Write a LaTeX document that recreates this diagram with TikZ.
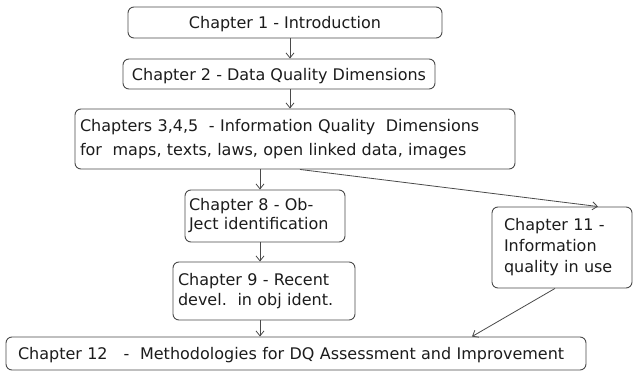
\documentclass[tikz,border=0pt]{standalone}
\usepackage{fontspec}
\setmainfont{DejaVu Sans}
\usetikzlibrary{arrows.meta}
\definecolor{edge}{HTML}{4A4A4A}
\definecolor{ink}{HTML}{1C1C1C}
\tikzset{
  chapbox/.style={draw=edge, line width=0.9pt, rounded corners=6pt,
    text=ink, font=\fontsize{16}{21}\selectfont, inner ysep=0pt},
  oneline/.style={text depth=0pt},
  flow/.style={draw=edge, line width=0.8pt,
    -{Straight Barb[length=5pt,width=8pt,line width=0.8pt]}},
}
\begin{document}
\begin{tikzpicture}[x=1pt,y=-1pt]
\useasboundingbox (0,0) rectangle (634,371);
\fill[white] (0,0) rectangle (634,371);

% chapter boxes (centre, size)
\node[chapbox, oneline, minimum width=314pt, minimum height=31pt, align=center]
  (c1) at (285,22.5) {Chapter 1 - Introduction};
\node[chapbox, oneline, minimum width=312pt, minimum height=30pt, align=center]
  (c2) at (279,74) {Chapter 2 - Data Quality Dimensions};
\node[chapbox, minimum width=440pt, minimum height=60pt, inner xsep=5pt,
  text width=430pt, align=left, font=\fontsize{16}{24}\selectfont]
  (c3) at (295,139) {Chapters 3,4,5\ \ - Information Quality\ \ Dimensions\\
  for\ \ maps, texts, laws, open linked data, images};
\node[chapbox, minimum width=160pt, minimum height=52pt, inner xsep=4pt,
  text width=152pt, align=left, font=\fontsize{16}{19}\selectfont]
  (c8) at (265,216) {Chapter 8 - Ob-\\Ject identification};
\node[chapbox, minimum width=182pt, minimum height=58pt, inner xsep=5pt,
  text width=172pt, align=left, font=\fontsize{16}{20}\selectfont]
  (c9) at (264,291) {Chapter 9 - Recent\\devel.\ \ in obj ident.};
\node[chapbox, minimum width=140pt, minimum height=81pt, inner xsep=12pt,
  text width=116pt, align=left]
  (c11) at (562,247.5) {Chapter 11 -\\Information\\quality in use};
\node[chapbox, oneline, minimum width=580pt, minimum height=33pt, inner xsep=12pt,
  text width=556pt, align=left]
  (c12) at (296,353.5) {Chapter 12\ \ \ -\ \ Methodologies for DQ Assessment and Improvement};

% connector columns
\coordinate (k260) at (260,0);
\coordinate (k290) at (290,0);
\coordinate (k300) at (300,0);
\coordinate (k598) at (598,0);
\coordinate (k555) at (555,0);
\coordinate (k472) at (472,0);

\draw[flow] (c1.south -| k290) -- (c2.north -| k290);
\draw[flow] (c2.south -| k290) -- (c3.north -| k290);
\draw[flow] (c3.south -| k260) -- (c8.north -| k260);
\draw[flow] (c3.south -| k300) -- (c11.north -| k598);
\draw[flow] (c8.south -| k260) -- (c9.north -| k260);
\draw[flow] (c9.south -| k260) -- (c12.north -| k260);
\draw[flow] (c11.south -| k555) -- (c12.north -| k472);
\end{tikzpicture}
\end{document}
